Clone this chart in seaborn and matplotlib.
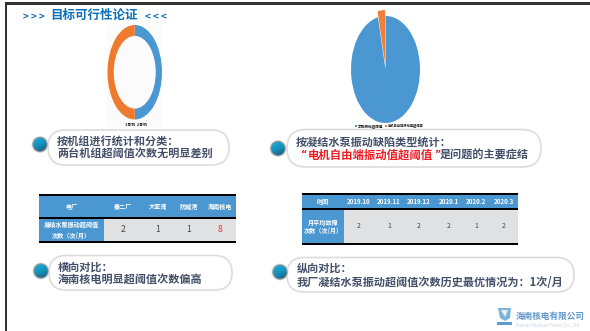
import numpy as np
import matplotlib
matplotlib.use("Agg")
import matplotlib.pyplot as plt
from matplotlib.colors import ListedColormap
from matplotlib.patches import Circle, FancyBboxPatch, Polygon, Rectangle
import seaborn as sns

sns.set_theme(style="white")
plt.rcParams["font.family"] = ["Noto Sans CJK SC", "DejaVu Sans"]

# Chart data
unit_labels = ["1号机", "2号机"]
unit_counts = [50, 50]
defect_labels = ["泵侧振动超阈值", "电机自由端振动值超阈值"]
defect_counts = [96.5, 3.5]
plants = ["秦二厂", "大亚湾", "防城港", "海南核电"]
plant_values = [2, 1, 1, 8]
months = ["2019.10", "2019.11", "2019.12", "2020.1", "2020.2", "2020.3"]
month_values = [2, 1, 2, 2, 1, 2]

W, H = 590, 331
BLUE = "#4a97d2"
ORANGE = "#ee7a2d"
GREY = "#e0e1e3"
TEXT = "#44506a"
TITLE = "#0b70b8"
RED = "#f01c24"

fig = plt.figure(figsize=(W / 100, H / 100), dpi=100, facecolor="white")
bg = fig.add_axes([0, 0, 1, 1])
bg.set_xlim(0, W)
bg.set_ylim(H, 0)
bg.axis("off")


def px_axes(x0, y0, x1, y1):
    """Axes placed by pixel corners, y counted from the top."""
    return fig.add_axes([x0 / W, 1 - y1 / H, (x1 - x0) / W, (y1 - y0) / H])


# Slide frame and heading
bg.add_patch(Rectangle((5, 2.2), W - 5, 2.4, color="#333333", lw=0))
bg.add_patch(Rectangle((5, 2.2), 2.4, H, color="#333333", lw=0))
bg.text(23, 16.5, "> > >", color=TITLE, fontsize=7, fontweight="bold", va="center")
bg.text(50.5, 15.5, "目标可行性论证", color=TITLE, fontsize=9, fontweight="bold", va="center")
bg.text(145, 16.5, "< < <", color=TITLE, fontsize=7, fontweight="bold", va="center")

# Doughnut by unit
bg.add_patch(Rectangle((107, 25), 55, 102, color="#fbfbfb", lw=0))
ax_d = px_axes(107.5, 25, 162, 119.5)
ax_d.pie(unit_counts, colors=[BLUE, ORANGE], startangle=90, counterclock=False,
         radius=1.0, wedgeprops=dict(width=0.23, linewidth=0))
ax_d.set_aspect("auto")
ax_d.set_xlim(-1, 1)
ax_d.set_ylim(-1, 1)
ax_d.patch.set_alpha(0)
bg.text(135.5, 124.7, "  ".join(unit_labels), fontsize=2.8, color="#222222",
        fontweight="bold", ha="center", va="center")

# Pie by defect type
ax_p = px_axes(351, 9, 420, 123)
ax_p.pie(defect_counts, colors=[BLUE, "#f07f38"], startangle=90, counterclock=False,
         explode=[0, 0.11], radius=1.0, wedgeprops=dict(linewidth=0))
ax_p.set_aspect("auto")
ax_p.set_xlim(-1, 1)
ax_p.set_ylim(-1, 1.13)
ax_p.patch.set_alpha(0)
bg.add_patch(Rectangle((355, 125), 1.6, 2, color=BLUE, lw=0))
bg.text(357.5, 126, defect_labels[0], fontsize=2.6, color="#222222",
        fontweight="bold", va="center")
bg.add_patch(Rectangle((385, 125), 1.6, 2, color="#f07f38", lw=0))
bg.text(387.5, 126, defect_labels[1], fontsize=2.3, color="#222222",
        fontweight="bold", va="center")


def callout(x0, y0, x1, y1, ball_x, ball_y):
    """Rounded text pill with a glossy bullet to its left."""
    r = (y1 - y0) / 2
    bg.add_patch(FancyBboxPatch((x0 + r, y0 + r), x1 - x0 - 2 * r, 0,
                                boxstyle=f"round,pad={r},rounding_size={r}",
                                fc="white", ec="#dcdcdc", lw=1.2, zorder=2))
    bg.add_patch(Circle((ball_x, ball_y), 8.4, fc="#d8d8d8", ec="none", zorder=3))
    bg.add_patch(Circle((ball_x, ball_y), 7.6, fc="#8f9498", ec="none", zorder=3))
    n = 48
    yy, xx = np.mgrid[0:1:n * 1j, 0:1:n * 1j]
    shade = np.clip(0.85 * yy + 0.35 * xx - 0.1, 0, 1)
    cmap = sns.blend_palette(["#18aad4", "#1393bd", "#1d6288"], as_cmap=True)
    im = bg.imshow(shade, cmap=cmap, vmin=0, vmax=1, aspect="auto", zorder=4,
                   extent=(ball_x - 7, ball_x + 7, ball_y + 7, ball_y - 7))
    im.set_clip_path(Circle((ball_x, ball_y), 6.6, transform=bg.transData))


callout(48, 130, 229, 165, 40, 144.5)
callout(287, 129.5, 541, 167, 278, 148.5)
callout(49, 255.5, 232, 290, 41, 271)
callout(287, 257.5, 574, 292, 280, 272)
bg.set_xlim(0, W)
bg.set_ylim(H, 0)

caption = dict(color=TEXT, fontsize=8, fontweight="bold", va="center", zorder=5)
bg.text(57, 141.5, "按机组进行统计和分类：", **caption)
bg.text(57, 154.5, "两台机组超阈值次数无明显差别", **caption)
bg.text(296, 142, "按凝结水泵振动缺陷类型统计：", **caption)
quote = {**caption, "color": RED, "family": "DejaVu Sans", "fontsize": 7}
bg.text(300.5, 155, "“", **quote)
bg.text(307.5, 155, "电机自由端振动值超阈值", **{**caption, "color": RED, "fontsize": 8.2})
bg.text(434, 155, "”", **quote)
bg.text(440, 155, "是问题的主要症结", **caption)
bg.text(58, 267, "横向对比：", **caption)
bg.text(58, 280, "海南核电明显超阈值次数偏高", **caption)
bg.text(297, 268, "纵向对比：", **caption)
bg.text(297, 282, "我厂凝结水泵振动超阈值次数历史最优情况为：1次/月", **caption)


def value_table(x0, x1, split, rows, heading, row_lines, line_gap, columns, values,
                centers, value_size, highlight=None):
    """Two-row table: blue header strip, heatmap value cells, black rules."""
    top, head_end, row_start, row_end, bottom = rows
    bg.add_patch(Rectangle((x0, top), x1 - x0, bottom - top, color="black", lw=0))
    bg.add_patch(Rectangle((x0, top + 2), x1 - x0, head_end - top - 2, color=BLUE, lw=0))
    bg.add_patch(Rectangle((x0, row_start), split - x0, row_end - row_start, color=BLUE, lw=0))
    ax = px_axes(split, row_start, x1, row_end)
    sns.heatmap(np.array([values]), ax=ax, cmap=ListedColormap([GREY]), cbar=False,
                annot=True, fmt="d", annot_kws=dict(fontsize=value_size, color="#444444"),
                xticklabels=False, yticklabels=False)
    n = len(values)
    for label, cx in zip(ax.texts, centers):
        label.set_x((cx - split) / (x1 - split) * n)
        if highlight is not None and label.get_text() == highlight:
            label.set_color("#f0303a")
    header_y = (top + 2 + head_end) / 2
    white = dict(color="white", fontweight="bold", ha="center", va="center", zorder=6)
    bg.text((x0 + split) / 2, header_y, heading, fontsize=4.4, **white)
    for name, cx in zip(columns, centers):
        bg.text(cx, header_y, name, fontsize=4.4, **white)
    mid = (row_start + row_end) / 2
    for i, line in enumerate(row_lines):
        bg.text((x0 + split) / 2, mid + (i - 0.5) * line_gap, line, fontsize=4.4, **white)


value_table(39, 236, 104, (194, 217, 218.5, 241, 243), "电厂",
            ["凝结水泵振动超阈值", "次数（次/月）"], 11, plants, plant_values,
            [123, 158, 189, 220], 6.2, highlight="8")
value_table(302, 518, 344, (193, 208, 210, 243, 245), "时间",
            ["月平均故障", "次数（次/月）"], 7.8, months, month_values,
            [359, 389, 419, 449, 476, 504], 5)

# Company mark in the corner
bg.add_patch(Polygon([(498, 308), (511, 308), (510, 318), (505, 321), (500, 318)],
                     fc="#7db2dc", ec="none"))
bg.add_patch(Polygon([(501, 310), (508, 310), (505, 317)], fc="#e8f1f8", ec="none"))
bg.add_patch(Rectangle((497, 322), 15, 3, color="#5a9fd4", lw=0))
bg.text(516, 316, "海南核电有限公司", color="#5f97cb", fontsize=6.2, fontweight="bold", va="center")
bg.text(516, 325, "Hainan Nuclear Power Co., Ltd.", color="#c3d2e0", fontsize=3.2, va="center")

fig.savefig("out.png", dpi=100)
